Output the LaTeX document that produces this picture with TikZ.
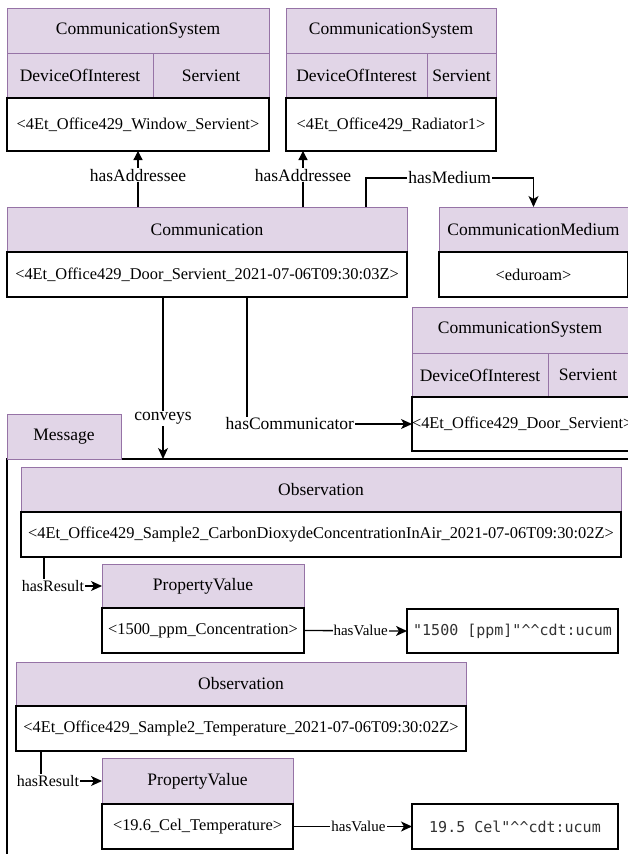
\documentclass[tikz,border=0pt]{standalone}
\usepackage{fontspec}
\setmainfont{Liberation Serif}
\setmonofont{DejaVu Sans Mono}
\usetikzlibrary{arrows.meta,calc}
\definecolor{pfill}{HTML}{E1D5E7}
\definecolor{pdraw}{HTML}{9673A6}
\definecolor{monotext}{HTML}{333333}
\newcommand{\mkbox}[7]{\node[#6, minimum width={(#4-#2)*1pt}, minimum height={(#5-#3)*1pt}] (#1) at (#2,#3) {#7};}
\begin{document}
\begin{tikzpicture}[x=1pt,y=-1pt,
  base/.style={rectangle, inner sep=0pt, outer sep=0pt, anchor=north west},
  hdr/.style={base, fill=pfill, draw=pdraw, line width=1pt, font=\fontsize{17.5}{20}\selectfont},
  inst/.style={base, fill=white, draw=black, line width=1.3pt, font=\fontsize{16.4}{19}\selectfont},
  val/.style={base, fill=white, draw=black, line width=1.3pt, font=\fontsize{15}{18}\ttfamily\color{monotext}},
  conn/.style={draw=black, line width=1.3pt},
  arr/.style={conn, -{Stealth[length=11pt,width=10pt,inset=3pt]}},
  tri/.style={conn, -{Triangle[length=9pt,width=9pt]}},
  lbl/.style={fill=white, inner sep=1pt, font=\fontsize{17.5}{20}\selectfont},
  lblsm/.style={fill=white, inner sep=1pt, font=\fontsize{16}{19}\selectfont},
  lblxs/.style={fill=white, inner sep=1pt, font=\fontsize{15}{18}\selectfont}]
\fill[white] (0,0) rectangle (627,854);
\useasboundingbox (0,0) rectangle (627,854);

% CommunicationSystem 1
\mkbox{cs1h}{7}{8}{269}{53}{hdr}{CommunicationSystem}
\mkbox{cs1d}{7}{53}{153}{98}{hdr}{DeviceOfInterest}
\mkbox{cs1s}{153}{53}{269}{98}{hdr}{Servient}
\mkbox{cs1i}{7}{98}{269}{151}{inst}{<4Et\_Office429\_Window\_Servient>}

% CommunicationSystem 2
\mkbox{cs2h}{286}{8}{496}{53}{hdr}{CommunicationSystem}
\mkbox{cs2d}{286}{53}{427}{98}{hdr}{DeviceOfInterest}
\mkbox{cs2s}{427}{53}{496}{98}{hdr}{Servient}
\mkbox{cs2i}{286}{98}{496}{151}{inst}{<4Et\_Office429\_Radiator1>}

% Communication
\mkbox{comh}{7}{207}{407}{252}{hdr}{Communication}
\mkbox{com}{7}{252}{407}{297}{inst}{<4Et\_Office429\_Door\_Servient\_2021-07-06T09:30:03Z>}

% CommunicationMedium
\mkbox{cmh}{439}{207}{628}{252}{hdr}{CommunicationMedium}
\mkbox{cmi}{439}{252}{628}{297}{inst}{<eduroam>}

% CommunicationSystem 3
\mkbox{cs3h}{412}{307}{628}{353}{hdr}{CommunicationSystem}
\mkbox{cs3d}{412}{353}{548}{397}{hdr}{DeviceOfInterest}
\mkbox{cs3s}{548}{353}{628}{397}{hdr}{Servient}
\mkbox{cs3i}{412}{397}{628}{451}{inst}{<4Et\_Office429\_Door\_Servient>}

% Message frame and tab
\mkbox{msg}{7}{459}{700}{900}{base, draw=black, line width=1.3pt}{}
\mkbox{msgtab}{7}{414}{121}{459}{hdr}{Message}

% Observation 1
\mkbox{ob1h}{21}{467}{621}{512}{hdr}{Observation}
\mkbox{ob1i}{21}{512}{621}{557}{inst}{<4Et\_Office429\_Sample2\_CarbonDioxydeConcentrationInAir\_2021-07-06T09:30:02Z>}
\mkbox{pv1h}{102}{564}{304}{608}{hdr}{PropertyValue}
\mkbox{pv1i}{102}{608}{304}{653}{inst}{<1500\_ppm\_Concentration>}
\mkbox{va1}{407}{609}{618}{653}{val}{"1500 [ppm]"\textasciicircum\textasciicircum cdt:ucum}

% Observation 2
\mkbox{ob2h}{16}{662}{466}{706}{hdr}{Observation}
\mkbox{ob2i}{16}{706}{466}{751}{inst}{<4Et\_Office429\_Sample2\_Temperature\_2021-07-06T09:30:02Z>}
\mkbox{pv2h}{102}{758}{293}{804}{hdr}{PropertyValue}
\mkbox{pv2i}{102}{804}{293}{849}{inst}{<19.6\_Cel\_Temperature>}
\mkbox{va2}{412}{804}{618}{849}{val}{19.5 Cel"\textasciicircum\textasciicircum cdt:ucum}

% connectors
\coordinate (a2) at ($(cs2i.south west)+(17,0)$);
\draw[tri] (cs1i.south |- comh.north) -- node[lbl, pos=0.57]{hasAddressee} (cs1i.south);
\draw[tri] (a2 |- comh.north) -- node[lbl, pos=0.57]{hasAddressee} (a2);

\coordinate (hmy) at (0,178);
\coordinate (hm0) at ($(comh.north east)+(-41,0)$);
\draw[arr] (hm0) -- (hm0 |- hmy) -- node[lbl]{hasMedium} (cmh.north |- hmy) -- (cmh.north);

\coordinate (cv0) at ($(com.south west)+(156,0)$);
\draw[arr] (cv0) -- node[lbl, pos=0.75]{conveys} (cv0 |- msg.north);

\coordinate (hc0) at ($(com.south west)+(240,0)$);
\draw[arr] (hc0) |- node[lbl, pos=0.63]{hasCommunicator} (cs3i.west);

\coordinate (hr1) at ($(ob1i.south west)+(23,0)$);
\draw[arr] (hr1) |- node[lblsm, pos=0.5, xshift=9pt]{hasResult} (pv1h.west);
\coordinate (hr2) at ($(ob2i.south west)+(25,0)$);
\draw[arr] (hr2) |- node[lblsm, pos=0.5, xshift=7pt]{hasResult} (pv2h.west);

\draw[arr] (pv1i.east) -- node[lblxs, pos=0.55]{hasValue} (va1.west);
\draw[arr] (pv2i.east) -- node[lblxs, pos=0.55]{hasValue} (va2.west);
\end{tikzpicture}
\end{document}
